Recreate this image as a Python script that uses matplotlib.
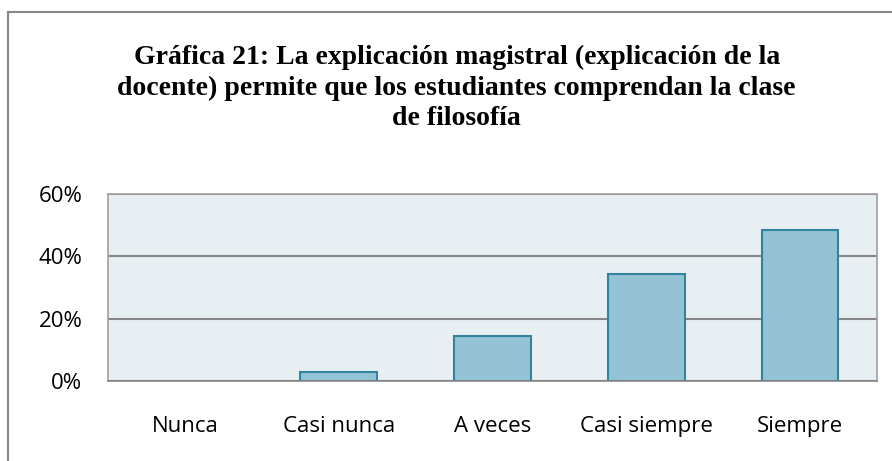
import matplotlib
matplotlib.use("Agg")
import matplotlib.pyplot as plt
from matplotlib.lines import Line2D

categories = ["Nunca", "Casi nunca", "A veces", "Casi siempre", "Siempre"]
values = [0.0, 2.86, 14.29, 34.29, 48.57]
yticks = [0, 20, 40, 60]
ytick_labels = ["0%", "20%", "40%", "60%"]
title = ("Gráfica 21: La explicación magistral (explicación de la\n"
         "docente) permite que los estudiantes comprendan la clase\n"
         "de filosofía")

fig = plt.figure(figsize=(8.92, 4.61), dpi=100)
ax = fig.add_axes([0.1211, 0.1735, 0.862, 0.4056])
ax.set_facecolor("#E8EFF3")

x = list(range(len(categories)))
lws = [1.5 if v > 0 else 0 for v in values]
ax.bar(x, values, width=0.5, color="#93C3D4", edgecolor="#31849B", linewidth=lws, zorder=3)
ax.set_xlim(-0.5, len(categories) - 0.5)
ax.set_ylim(0, 60)
ax.set_yticks(yticks)
ax.set_yticklabels(ytick_labels, family="Open Sans", fontsize=16)
ax.set_xticks(x)
ax.set_xticklabels(categories, family="Open Sans", fontsize=16)
ax.tick_params(axis="y", length=0, pad=18.5)
ax.tick_params(axis="x", length=0, pad=25.5)
ax.grid(axis="y", color="#868686", linewidth=1.5, zorder=1)
for s in ax.spines.values():
    s.set_color("#A0A0A0")
    s.set_linewidth(1.2)
ax.spines["bottom"].set_color("#868686")
ax.spines["bottom"].set_zorder(4)

fig.text(0.512, 0.903, title, ha="center", va="top", family="Liberation Serif",
         fontweight="bold", fontsize=20, linespacing=1.29)

# outer frame (top and left visible)
fig.add_artist(Line2D([0.009, 1.0], [0.974, 0.974], color="#868686", linewidth=1.5, transform=fig.transFigure))
fig.add_artist(Line2D([0.009, 0.009], [0.0, 0.974], color="#868686", linewidth=1.5, transform=fig.transFigure))

fig.savefig("out.png", dpi=100)
